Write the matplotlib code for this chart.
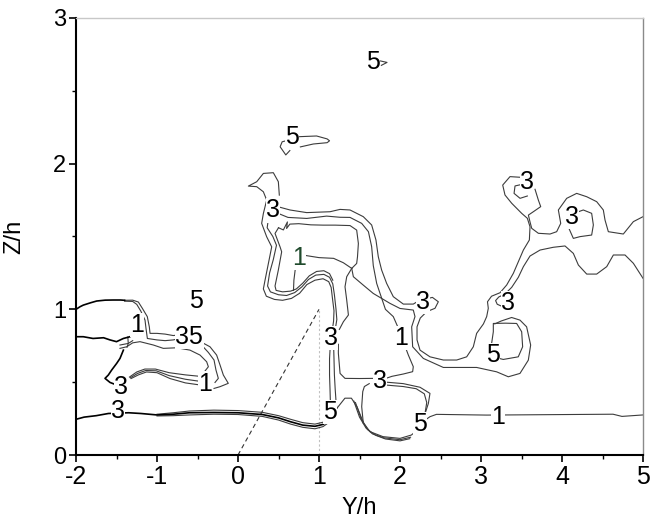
import numpy as np
import matplotlib
matplotlib.use("Agg")
import matplotlib.pyplot as plt
from matplotlib.ticker import MultipleLocator

plt.rcParams['font.family'] = ['Liberation Sans', 'DejaVu Sans']
plt.rcParams['axes.unicode_minus'] = False

# contour traces, (Y/h, Z/h) pairs
top_tip = [(1.76, 2.705), (1.84, 2.695), (1.77, 2.675)]
top_blob = [(0.745, 2.185), (0.97, 2.19), (1.10, 2.17), (1.13, 2.157), (1.10, 2.144),
            (0.93, 2.135), (0.77, 2.115)]
top_blob_hook = [(0.61, 2.16), (0.545, 2.15), (0.52, 2.116), (0.59, 2.06), (0.64, 2.09)]

h_outer = [(0.51, 1.784), (0.498, 1.876), (0.436, 1.938), (0.313, 1.933), (0.231, 1.876),
           (0.128, 1.846), (0.231, 1.842), (0.313, 1.807), (0.354, 1.75), (0.313, 1.658),
           (0.292, 1.59), (0.354, 1.498), (0.416, 1.429), (0.375, 1.315), (0.334, 1.201),
           (0.313, 1.14), (0.35, 1.09), (0.45, 1.068), (0.55, 1.062), (0.66, 1.075),
           (0.76, 1.11), (0.85, 1.17), (0.95, 1.20), (1.05, 1.21), (1.12, 1.19), (1.15, 1.15),
           (1.165, 1.08), (1.185, 0.99), (1.18, 0.92), (1.165, 0.86)]
h_outer_low = [(1.14, 0.76), (1.13, 0.66), (1.13, 0.55), (1.136, 0.45), (1.14, 0.37)]
h_mid = [(0.40, 1.64), (0.37, 1.60), (0.36, 1.56), (0.43, 1.50), (0.475, 1.44), (0.435, 1.34),
         (0.39, 1.25), (0.365, 1.16), (0.40, 1.12), (0.50, 1.10), (0.60, 1.095), (0.70, 1.115),
         (0.79, 1.155), (0.87, 1.205), (0.96, 1.235), (1.06, 1.24), (1.13, 1.22), (1.17, 1.175),
         (1.19, 1.10), (1.21, 1.00), (1.22, 0.93), (1.20, 0.86)]
h_mid_low = [(1.18, 0.76), (1.185, 0.66), (1.19, 0.55), (1.20, 0.45), (1.21, 0.37), (1.22, 0.32)]
h_inner = [(0.50, 1.56), (0.457, 1.521), (0.519, 1.429), (0.539, 1.395), (0.498, 1.27),
           (0.457, 1.16), (0.47, 1.13), (0.55, 1.12), (0.65, 1.125), (0.72, 1.14), (0.80, 1.18),
           (0.88, 1.23), (0.97, 1.26), (1.06, 1.265), (1.13, 1.245), (1.17, 1.20)]
one_stub = [(0.71, 1.29), (0.69, 1.20), (0.685, 1.13)]
one_inner = [(0.83, 1.37), (1.0, 1.355), (1.18, 1.35), (1.30, 1.32), (1.404, 1.281)]
t_inner = [(0.50, 1.56), (0.56, 1.545), (0.61, 1.60), (0.60, 1.555), (0.64, 1.585),
           (0.75, 1.588), (0.90, 1.58), (1.05, 1.578), (1.20, 1.578), (1.383, 1.575),
           (1.465, 1.544), (1.486, 1.452), (1.475, 1.36), (1.465, 1.315), (1.404, 1.281)]
neck_right = [(1.404, 1.281), (1.342, 1.224), (1.321, 1.155), (1.342, 1.064), (1.363, 0.961),
              (1.301, 0.915), (1.251, 0.862)]
neck_low = [(1.239, 0.76), (1.239, 0.698), (1.26, 0.56), (1.321, 0.526), (1.5, 0.525), (1.67, 0.526)]

t_outer = [(0.49, 1.705), (0.642, 1.682), (0.848, 1.664), (1.136, 1.670), (1.259, 1.686),
           (1.383, 1.682), (1.547, 1.636), (1.65, 1.579), (1.703, 1.476), (1.732, 1.361),
           (1.773, 1.270), (1.835, 1.178), (1.917, 1.087), (2.041, 1.036), (2.164, 1.036),
           (2.22, 1.055)]
u_inner = [(2.35, 1.075), (2.40, 1.082), (2.473, 1.052), (2.432, 1.007), (2.33, 0.984),
           (2.25, 0.94), (2.21, 0.88), (2.21, 0.79), (2.247, 0.72), (2.37, 0.674),
           (2.535, 0.652), (2.70, 0.652), (2.823, 0.674), (2.905, 0.743), (2.946, 0.835),
           (3.03, 0.90), (3.07, 0.95), (3.09, 1.007), (3.08, 1.052), (3.13, 1.09),
           (3.235, 1.114), (3.317, 1.167), (3.399, 1.247), (3.461, 1.327), (3.523, 1.407),
           (3.597, 1.476), (3.605, 1.567), (3.572, 1.625), (3.502, 1.659), (3.379, 1.728),
           (3.296, 1.785), (3.268, 1.853), (3.358, 1.911), (3.50, 1.906)]
loop_a_right = [(3.667, 1.824), (3.708, 1.75), (3.737, 1.705), (3.646, 1.67), (3.585, 1.647),
                (3.605, 1.60), (3.626, 1.556), (3.708, 1.522), (3.852, 1.517), (3.934, 1.533),
                (3.984, 1.59), (3.955, 1.682), (4.058, 1.762), (4.181, 1.796), (4.305, 1.773),
                (4.428, 1.739), (4.51, 1.682), (4.531, 1.613), (4.572, 1.533), (4.757, 1.517),
                (4.881, 1.602), (5.0, 1.636)]
loop_a_inner = [(3.523, 1.86), (3.42, 1.847), (3.408, 1.796), (3.482, 1.762), (3.572, 1.778)]
loop_b_inner = [(4.05, 1.60), (4.14, 1.487), (4.222, 1.499), (4.366, 1.51), (4.387, 1.579),
                (4.366, 1.659), (4.263, 1.682), (4.202, 1.67)]
t_middle = [(0.49, 1.66), (0.617, 1.631), (0.848, 1.624), (1.094, 1.64), (1.259, 1.632),
            (1.383, 1.631), (1.527, 1.59), (1.61, 1.533), (1.65, 1.43), (1.67, 1.30),
            (1.712, 1.178), (1.753, 1.11), (1.82, 1.0), (1.917, 0.95), (1.98, 0.87)]
t_middle_low = [(2.08, 0.72), (2.103, 0.686), (2.164, 0.606), (2.156, 0.572), (2.041, 0.556),
                (1.90, 0.54), (1.82, 0.525)]
u_outer = [(1.404, 1.281), (1.424, 1.224), (1.547, 1.166), (1.67, 1.109), (1.876, 1.041),
           (2.0, 1.006), (2.164, 0.995), (2.185, 0.95), (2.144, 0.88), (2.156, 0.743),
           (2.288, 0.663), (2.535, 0.601), (2.946, 0.601), (3.193, 0.571), (3.337, 0.537),
           (3.481, 0.56), (3.584, 0.651), (3.613, 0.755), (3.563, 0.88), (3.481, 0.926),
           (3.378, 0.944), (3.25, 0.92), (3.17, 0.90)]
loop_five = [(3.131, 0.766), (3.152, 0.846), (3.152, 0.903), (3.30, 0.905), (3.44, 0.903),
             (3.502, 0.846), (3.514, 0.743), (3.46, 0.674), (3.275, 0.656), (3.21, 0.665)]
diag_right = [(5.0, 1.213), (4.881, 1.316), (4.778, 1.373), (4.634, 1.373), (4.552, 1.293),
              (4.428, 1.242), (4.305, 1.242), (4.202, 1.304), (4.14, 1.384), (4.037, 1.435),
              (3.893, 1.426), (3.729, 1.407), (3.605, 1.366), (3.523, 1.293), (3.461, 1.22),
              (3.379, 1.151), (3.296, 1.105), (3.22, 1.085), (3.18, 1.06), (3.20, 1.035),
              (3.26, 1.02)]

bub_outer = [(1.22, 0.32), (1.32, 0.39), (1.40, 0.39), (1.47, 0.33), (1.55, 0.22),
             (1.63, 0.16), (1.79, 0.126), (2.0, 0.114), (2.14, 0.137), (2.19, 0.16)]
bub_mid = [(1.43, 0.37), (1.50, 0.26), (1.58, 0.185), (1.66, 0.145), (1.80, 0.118),
           (2.0, 0.105), (2.13, 0.122)]
bub_low = [(1.45, 0.36), (1.52, 0.25), (1.60, 0.175), (1.70, 0.135), (1.82, 0.11),
           (2.0, 0.097), (2.12, 0.112)]
bub_left = [(1.62, 0.49), (1.56, 0.47), (1.54, 0.435), (1.527, 0.332), (1.547, 0.217)]
arch_a = [(1.83, 0.50), (2.04, 0.49), (2.247, 0.465), (2.37, 0.423), (2.35, 0.354),
          (2.31, 0.285), (2.29, 0.25)]
arch_b = [(1.83, 0.48), (2.04, 0.47), (2.20, 0.455), (2.30, 0.42), (2.33, 0.36),
          (2.31, 0.29), (2.29, 0.25)]
one_right = [(2.31, 0.24), (2.37, 0.263), (2.45, 0.279), (3.07, 0.274), (4.63, 0.28),
             (4.74, 0.265), (5.0, 0.275)]

band_dark = [(-2.0, 0.245), (-1.9, 0.26), (-1.75, 0.27), (-1.6, 0.285), (-1.35, 0.29),
             (-1.2, 0.285), (-1.0, 0.275), (-0.8, 0.28), (-0.6, 0.29), (-0.3, 0.292),
             (0.0, 0.29), (0.3, 0.278), (0.5, 0.255), (0.65, 0.228), (0.8, 0.205),
             (0.95, 0.197), (1.05, 0.21), (1.10, 0.23)]
band_up = [(-1.0, 0.28), (-0.8, 0.29), (-0.6, 0.302), (-0.3, 0.308), (0.0, 0.305), (0.3, 0.293),
           (0.5, 0.27), (0.65, 0.245), (0.8, 0.222), (0.95, 0.212), (1.05, 0.225), (1.10, 0.245)]
band_low = [(-1.0, 0.268), (-0.8, 0.27), (-0.6, 0.275), (-0.3, 0.28), (0.0, 0.278), (0.3, 0.265),
            (0.5, 0.24), (0.65, 0.212), (0.8, 0.19), (0.95, 0.18), (1.05, 0.195), (1.10, 0.215)]

left_top_dark = [(-2.0, 1.0), (-1.95, 1.018), (-1.91, 1.029), (-1.82, 1.045), (-1.745, 1.057),
                 (-1.64, 1.063), (-1.54, 1.064), (-1.45, 1.064), (-1.40, 1.062)]
left_a = [(-1.40, 1.062), (-1.30, 1.063), (-1.23, 1.05), (-1.18, 1.006), (-1.12, 0.95),
          (-1.095, 0.88), (-1.086, 0.835), (-1.0, 0.835), (-0.90, 0.83), (-0.80, 0.82), (-0.72, 0.825)]
left_a_end = [(-0.47, 0.78), (-0.346, 0.743), (-0.264, 0.686), (-0.222, 0.618), (-0.181, 0.549),
              (-0.12, 0.492), (-0.222, 0.469), (-0.296, 0.457)]
left_b = [(-1.40, 1.056), (-1.30, 1.054), (-1.25, 1.034), (-1.20, 0.988), (-1.148, 0.926),
          (-1.136, 0.869), (-1.119, 0.80), (-1.0, 0.79), (-0.9, 0.785), (-0.8, 0.79), (-0.72, 0.80)]
left_b_end = [(-0.45, 0.755), (-0.366, 0.704), (-0.296, 0.652), (-0.272, 0.583), (-0.243, 0.526),
              (-0.284, 0.498)]
left_c = [(-1.457, 0.732), (-1.374, 0.743), (-1.30, 0.77), (-1.21, 0.778), (-1.045, 0.755),
          (-0.922, 0.732), (-0.757, 0.736), (-0.593, 0.72), (-0.469, 0.686), (-0.387, 0.64),
          (-0.366, 0.606), (-0.408, 0.576)]
left_mid_dark = [(-2.0, 0.812), (-1.91, 0.812), (-1.79, 0.80), (-1.66, 0.805), (-1.58, 0.79),
                 (-1.50, 0.778), (-1.415, 0.80), (-1.333, 0.812), (-1.29, 0.83)]
lattice_a = [(-1.457, 0.755), (-1.354, 0.766), (-1.30, 0.785)]
lattice_v = [(-1.36, 0.81), (-1.355, 0.765), (-1.37, 0.74)]
left_down_dark = [(-1.415, 0.72), (-1.457, 0.663), (-1.498, 0.629), (-1.56, 0.583),
                  (-1.601, 0.549), (-1.642, 0.526), (-1.58, 0.498), (-1.519, 0.485)]
left_low_a = [(-1.34, 0.535), (-1.25, 0.57), (-1.15, 0.59), (-1.02, 0.59), (-0.85, 0.565),
              (-0.65, 0.55), (-0.47, 0.54)]
left_low_b = [(-1.33, 0.53), (-1.24, 0.56), (-1.14, 0.58), (-1.01, 0.578), (-0.85, 0.545),
              (-0.65, 0.52), (-0.46, 0.505)]
left_low_c = [(-1.32, 0.525), (-1.23, 0.55), (-1.13, 0.57), (-1.0, 0.565), (-0.84, 0.525),
              (-0.65, 0.495), (-0.46, 0.48)]

thin_lines = [top_tip, top_blob, top_blob_hook, h_outer, h_outer_low, h_mid, h_mid_low,
              h_inner, one_stub, one_inner, t_inner, neck_right, neck_low, t_outer, u_inner,
              loop_a_right, loop_a_inner, loop_b_inner, t_middle, t_middle_low, u_outer,
              loop_five, diag_right, bub_outer, bub_mid, bub_low, bub_left, arch_a, arch_b,
              one_right, band_up, band_low, left_a, left_a_end, left_b, left_b_end, left_c,
              lattice_a, lattice_v, left_low_a, left_low_b, left_low_c]
dark_lines = [band_dark, left_top_dark, left_mid_dark, left_down_dark]

# contour labels: text, Y/h, Z/h
labels = [("5", 1.66, 2.70), ("5", 0.667, 2.183), ("3", 0.432, 1.68), ("1", 0.753, 1.352),
          ("3", 3.568, 1.874), ("3", 4.123, 1.633), ("5", -0.519, 1.057), ("1", -1.247, 0.892),
          ("35", -0.60, 0.81), ("3", -1.444, 0.47), ("1", -0.407, 0.49), ("3", -1.48, 0.302),
          ("3", 1.148, 0.803), ("1", 2.012, 0.803), ("3", 2.284, 1.05), ("3", 3.333, 1.045),
          ("5", 3.148, 0.686), ("3", 1.753, 0.508), ("5", 1.136, 0.295), ("5", 2.247, 0.213),
          ("1", 3.21, 0.261)]
label_colors = {(0.753, 1.352): '#1f4a2c'}

fig = plt.figure(figsize=(6.53, 5.2), dpi=100)
ax = fig.add_axes([0.1164, 0.125, 0.8683, 0.8404])

ax.plot([0, 1], [0, 1], color='#333333', lw=0.8, ls=(0, (4, 3)))
ax.plot([1, 1], [0, 1], color='#c0c0c0', lw=0.8, ls=(0, (2, 2)))

for pts in thin_lines:
    y, z = zip(*pts)
    ax.plot(y, z, color='#3c3c3c', lw=0.8)
for pts in dark_lines:
    y, z = zip(*pts)
    ax.plot(y, z, color='black', lw=1.2)

for txt, y, z in labels:
    c = label_colors.get((y, z), 'black')
    ax.text(y, z, txt, fontsize=18, color=c, ha='center', va='center', zorder=5,
            bbox=dict(facecolor='white', edgecolor='none', pad=0.2))

ax.set_xlim(-2, 5)
ax.set_ylim(0, 3)
ax.xaxis.set_major_locator(MultipleLocator(1))
ax.xaxis.set_minor_locator(MultipleLocator(0.5))
ax.yaxis.set_major_locator(MultipleLocator(1))
ax.yaxis.set_minor_locator(MultipleLocator(0.5))
ax.tick_params(which='major', direction='out', length=5, width=1.2, pad=2,
               top=False, right=False)
ax.tick_params(which='minor', direction='out', length=3, width=1.0, top=False, right=False)
ax.tick_params(axis='x', labelsize=18)
ax.tick_params(axis='y', labelsize=17)

for s in ['left', 'bottom']:
    ax.spines[s].set_linewidth(1.5)
    ax.spines[s].set_color('black')
ax.spines['top'].set_color('#c8c8c8')
ax.spines['top'].set_linewidth(1.0)
ax.spines['right'].set_color('#8a8a8a')
ax.spines['right'].set_linewidth(1.0)

ax.set_xlabel('Y/h', fontsize=17, labelpad=6)
ax.set_ylabel('Z/h', fontsize=17, labelpad=20)

fig.savefig('out.png', dpi=100)
